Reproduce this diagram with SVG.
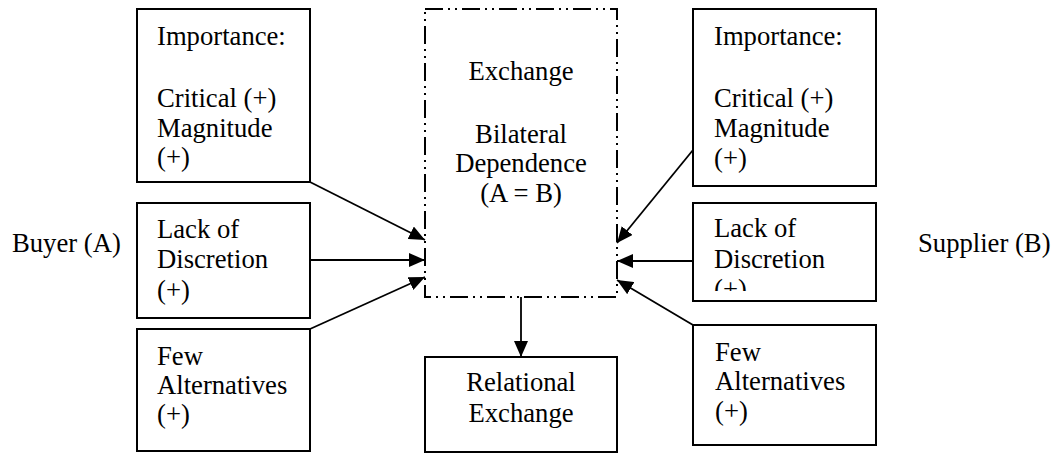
<svg xmlns="http://www.w3.org/2000/svg" width="1054" height="453" viewBox="0 0 1054 453">
<style>
text{font-family:"Liberation Serif","Times New Roman",serif;font-size:26.67px;fill:#000}
.box{fill:#fff;stroke:#000;stroke-width:2}
.dash{fill:#fff;stroke:#000;stroke-width:2;stroke-dasharray:18 5 2 5 2 5}
.c{text-anchor:middle}
.conn line{stroke:#000;stroke-width:1.8;marker-end:url(#ah)}
</style>
<defs>
<marker id="ah" viewBox="0 0 16 14" refX="16" refY="7" markerWidth="16" markerHeight="14" markerUnits="userSpaceOnUse" orient="auto">
<path d="M0,0 L16,7 L0,14 Z" fill="#000"/>
</marker>
<clipPath id="clipRM"><rect x="693" y="203" width="183" height="88"/></clipPath>
</defs>
<rect width="1054" height="453" fill="#fff"/>
<g id="buyer"><text x="12" y="252">Buyer (A)</text></g>
<g id="supplier"><text x="918" y="252">Supplier (B)</text></g>
<g id="left-importance">
<rect class="box" x="137" y="9" width="173" height="173"/>
<text x="157" y="45">Importance:</text>
<text x="157" y="107">Critical (+)</text>
<text x="157" y="137">Magnitude</text>
<text x="157" y="166">(+)</text>
</g>
<g id="left-discretion">
<rect class="box" x="137" y="203" width="173" height="115"/>
<text x="157" y="238">Lack of</text>
<text x="157" y="268">Discretion</text>
<text x="157" y="299">(+)</text>
</g>
<g id="left-alternatives">
<rect class="box" x="137" y="329" width="173" height="122"/>
<text x="157" y="365">Few</text>
<text x="157" y="394">Alternatives</text>
<text x="157" y="423">(+)</text>
</g>
<g id="exchange">
<rect class="dash" x="425" y="9" width="192" height="288"/>
<text class="c" x="521" y="80">Exchange</text>
<text class="c" x="521" y="143">Bilateral</text>
<text class="c" x="521" y="172">Dependence</text>
<text class="c" x="521" y="202">(A = B)</text>
</g>
<g id="relational">
<rect class="box" x="425" y="357" width="192" height="95"/>
<text class="c" x="521" y="391">Relational</text>
<text class="c" x="521" y="422">Exchange</text>
</g>
<g id="right-importance">
<rect class="box" x="693" y="9" width="183" height="177"/>
<text x="714" y="45">Importance:</text>
<text x="714" y="107">Critical (+)</text>
<text x="714" y="137">Magnitude</text>
<text x="714" y="167">(+)</text>
</g>
<g id="right-discretion">
<rect class="box" x="693" y="203" width="183" height="98"/>
<g clip-path="url(#clipRM)">
<text x="714" y="237">Lack of</text>
<text x="714" y="268">Discretion</text>
<text x="714" y="298">(+)</text>
</g>
</g>
<g id="right-alternatives">
<rect class="box" x="693" y="325" width="183" height="120"/>
<text x="715" y="361">Few</text>
<text x="715" y="390">Alternatives</text>
<text x="715" y="420">(+)</text>
</g>
<g id="connectors" class="conn">
<line x1="310" y1="182" x2="425" y2="240"/>
<line x1="310" y1="260" x2="425" y2="260"/>
<line x1="310" y1="329" x2="425" y2="277"/>
<line x1="693" y1="150" x2="617" y2="243"/>
<line x1="693" y1="261" x2="617" y2="261"/>
<line x1="693" y1="325" x2="617" y2="280"/>
<line x1="521" y1="297" x2="521" y2="357"/>
</g>
</svg>
